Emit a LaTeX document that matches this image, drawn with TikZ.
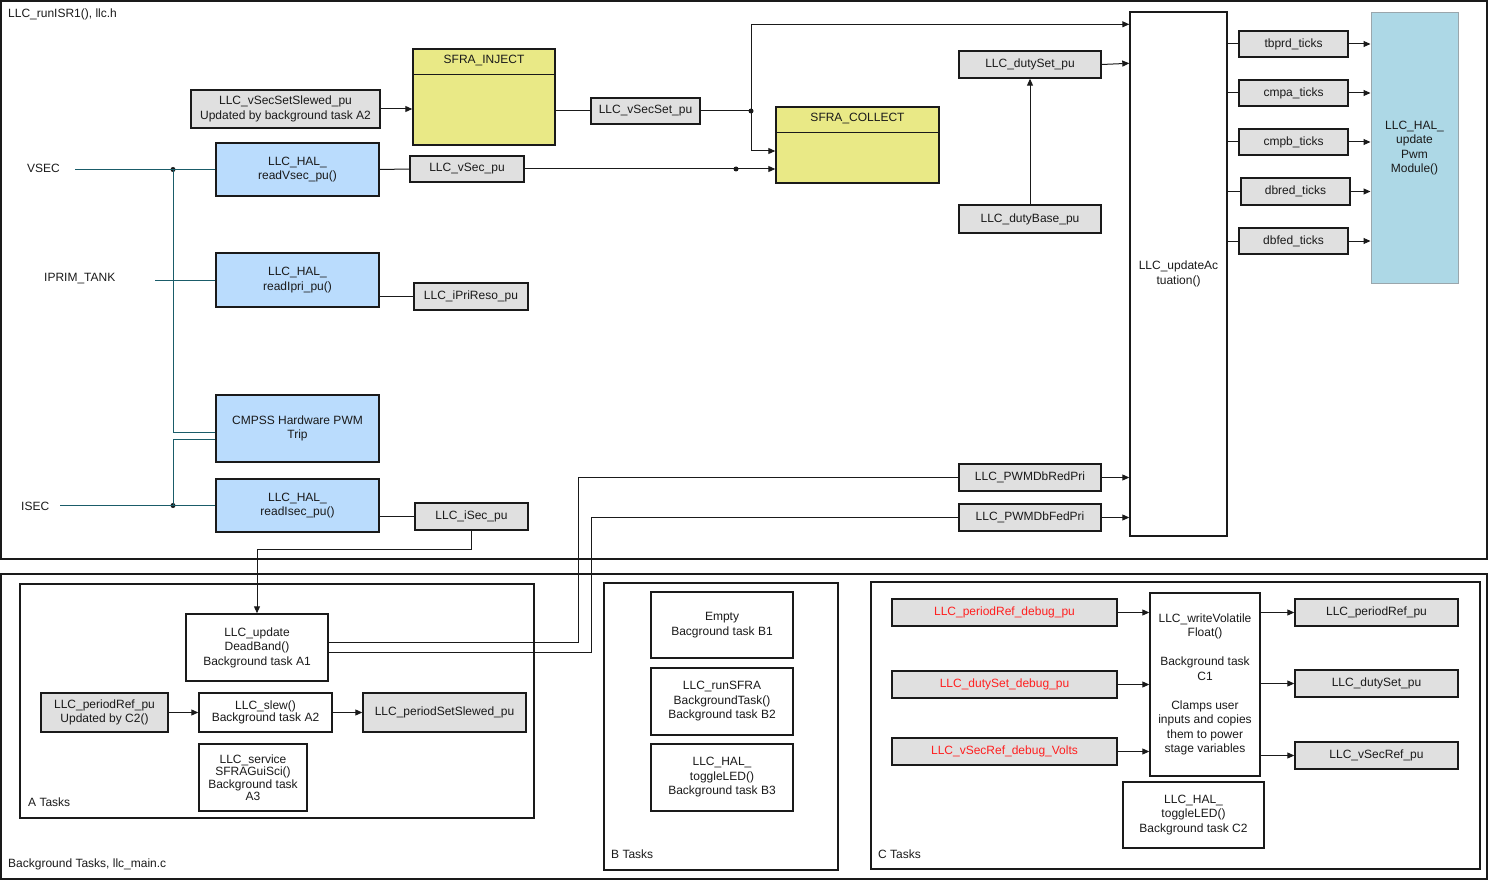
\documentclass[tikz,border=0pt]{standalone}
\usepackage{fontspec}
\setmainfont{Liberation Sans}
\usepackage{xcolor}
\usepackage{tikz}
\usetikzlibrary{arrows.meta,positioning,calc}
\definecolor{ink}{HTML}{1A1A1A}
\definecolor{vargray}{HTML}{E0E0E0}
\definecolor{halblue}{HTML}{BADCFD}
\definecolor{sfrayel}{HTML}{E9E986}
\definecolor{pwmblue}{HTML}{ADD8E6}
\definecolor{pwmedge}{HTML}{9AA6AC}
\definecolor{dbgred}{HTML}{FF2020}
\definecolor{sigteal}{HTML}{1A5C69}
\tikzset{
  >={Triangle[length=7pt,width=6pt]},
  every node/.style={font=\fontsize{12}{14.5}\selectfont,text=ink},
  blk/.style={draw=ink,line width=1.4pt,inner sep=0pt,align=center},
  var/.style={blk,fill=vargray},
  hal/.style={blk,fill=halblue},
  sfra/.style={blk,fill=sfrayel},
  task/.style={blk,fill=white},
  dbg/.style={var,text=dbgred},
  pwmbox/.style={blk,fill=pwmblue,draw=pwmedge,line width=1pt},
  frame/.style={draw=ink,line width=1.6pt},
  lbl/.style={anchor=west,inner sep=0pt},
  wire/.style={draw=ink,line width=1pt},
  arr/.style={wire,->},
  sig/.style={draw=sigteal,line width=1pt},
  jdot/.style={circle,fill=ink,inner sep=0pt,minimum size=5pt}
}
\begin{document}
\begin{tikzpicture}[x=1pt,y=-1pt]
  \useasboundingbox (0,0) rectangle (1489,880);

  % frames
  \draw[frame] (1,1) rectangle (1487,559);
  \draw[frame] (1,574) rectangle (1487,879);
  \draw[frame] (20,584) rectangle (534,818);
  \draw[frame] (604,583) rectangle (838,870);
  \draw[frame] (871,582) rectangle (1480,869);
  \node[lbl] (isrlbl) at (8,14) {LLC\_runISR1(), llc.h};
  \node[lbl] (bglbl) at (8,864) {Background Tasks, llc\_main.c};
  \node[lbl] (alaabel) at (28,802) {A Tasks};
  \node[lbl] (blabel) at (611,854) {B Tasks};
  \node[lbl] (clabel) at (878,854) {C Tasks};

  % ISR inputs
  \node[lbl] (vseclbl) at (27,168) {VSEC};
  \node[lbl] (iprimlbl) at (44,279) {IPRIM\_TANK};
  \node[lbl] (iseclbl) at (21,506) {ISEC};
  \coordinate (vsecin) at (75,169.5);
  \coordinate (iprimin) at (155,280);
  \coordinate (isecin) at (60,505.5);

  % ISR blocks
  \node[hal,minimum width=163,minimum height=53] (readvsec) at (297.5,169.5) {LLC\_HAL\_\\readVsec\_pu()};
  \node[hal,minimum width=163,minimum height=54] (readipri) at (297.5,280) {LLC\_HAL\_\\readIpri\_pu()};
  \node[hal,minimum width=163,minimum height=67] (cmpss) at (297.5,428.5) {CMPSS Hardware PWM\\Trip};
  \node[hal,minimum width=163,minimum height=53] (readisec) at (297.5,505.5) {LLC\_HAL\_\\readIsec\_pu()};

  \node[var,minimum width=189,minimum height=38] (slewedvsec) at (285.5,109) {LLC\_vSecSetSlewed\_pu\\Updated by background task A2};
  \node[var,minimum width=114,minimum height=26] (vsec) at (467,169) {LLC\_vSec\_pu};
  \node[var,minimum width=114,minimum height=27] (ipri) at (471,296.5) {LLC\_iPriReso\_pu};
  \node[var,minimum width=113,minimum height=27] (isec) at (471.5,516.5) {LLC\_iSec\_pu};
  \node[var,minimum width=109,minimum height=26] (vsecset) at (645.5,111) {LLC\_vSecSet\_pu};

  \node[sfra,minimum width=142,minimum height=96] (inject) at (484,97) {};
  \draw[blk] ($(inject.north west)+(0,26)$) -- ($(inject.north east)+(0,26)$);
  \node (injecthd) at ($(inject.north)+(0,12)$) {SFRA\_INJECT};
  \node[sfra,minimum width=163,minimum height=76] (collect) at (857.5,145) {};
  \draw[blk] ($(collect.north west)+(0,26)$) -- ($(collect.north east)+(0,26)$);
  \node (collecthd) at ($(collect.north)+(0,12)$) {SFRA\_COLLECT};

  \node[var,minimum width=142,minimum height=27] (dutyset) at (1030,64.5) {LLC\_dutySet\_pu};
  \node[var,minimum width=142,minimum height=28] (dutybase) at (1030,219) {LLC\_dutyBase\_pu};
  \node[var,minimum width=142,minimum height=27] (redpri) at (1030,477.5) {LLC\_PWMDbRedPri};
  \node[var,minimum width=142,minimum height=27] (fedpri) at (1030,517.5) {LLC\_PWMDbFedPri};

  \node[task,minimum width=97,minimum height=524] (upd) at (1178.5,274) {LLC\_updateAc\\tuation()};
  \node[var,minimum width=109,minimum height=26] (tbprd) at (1293.5,44) {tbprd\_ticks};
  \node[var,minimum width=109,minimum height=26] (cmpa) at (1293.5,93) {cmpa\_ticks};
  \node[var,minimum width=109,minimum height=26] (cmpb) at (1293.5,142) {cmpb\_ticks};
  \node[var,minimum width=109,minimum height=27] (dbred) at (1295.5,191.5) {dbred\_ticks};
  \node[var,minimum width=109,minimum height=26] (dbfed) at (1293.5,241) {dbfed\_ticks};
  \node[pwmbox,minimum width=87,minimum height=270] (pwm) at (1414.5,148) {LLC\_HAL\_\\update\\Pwm\\Module()};

  % ISR wiring
  \node[jdot] (vsecdot) at (173,169.5) {};
  \node[jdot] (isecdot) at (173,505.5) {};
  \draw[sig] (vsecin) -- (readvsec.west);
  \draw[sig] (iprimin) -- (readipri.west);
  \draw[sig] (isecin) -- (readisec.west);
  \draw[sig] (vsecdot.center) |- ($(cmpss.west)+(0,3.5)$);
  \draw[sig] (isecdot.center) |- ($(cmpss.west)+(0,10.5)$);

  \draw[arr] (slewedvsec.east) -- (slewedvsec.east -| inject.west);
  \draw[wire] (vsecset.west -| inject.east) -- (vsecset.west);
  \node[jdot] (setdot) at (751,111) {};
  \draw[wire] (vsecset.east) -- (setdot.center);
  \draw[arr] (setdot.center) |- ($(upd.north west)+(0,13)$);
  \draw[arr] (setdot.center) |- ($(collect.west)+(0,6)$);
  \draw[wire] (readvsec.east) -- (vsec.west);
  \draw[arr] (vsec.east) -- (vsec.east -| collect.west);
  \node[jdot] (vsecdot2) at (736,169) {};
  \draw[arr] (dutyset.east) -- ($(upd.north west)+(0,52)$);
  \draw[arr] (dutybase.north) -- (dutyset.south);
  \foreach \t in {tbprd,cmpa,cmpb,dbred,dbfed} {
    \draw[wire] (\t.west -| upd.east) -- (\t.west);
    \draw[arr] (\t.east) -- (\t.east -| pwm.west);
  }
  \draw[arr] (redpri.east) -- (redpri.east -| upd.west);
  \draw[arr] (fedpri.east) -- (fedpri.east -| upd.west);
  \draw[wire] (ipri.west -| readipri.east) -- (ipri.west);
  \draw[wire] (isec.west -| readisec.east) -- (isec.west);

  % A tasks
  \node[task,minimum width=142,minimum height=67] (deadband) at (257,647.5) {LLC\_update\\DeadBand()\\Background task A1};
  \node[var,minimum width=127,minimum height=39] (periodref) at (104.5,712.5) {LLC\_periodRef\_pu\\Updated by C2()};
  \node[task,minimum width=133,minimum height=39,font=\fontsize{12}{10}\selectfont] (slew) at (265.5,712.5) {LLC\_slew()\\Background task A2};
  \node[var,minimum width=163,minimum height=39] (periodslewed) at (444.5,712.5) {LLC\_periodSetSlewed\_pu};
  \node[task,minimum width=108,minimum height=67,font=\fontsize{12}{12.5}\selectfont] (service) at (253,777.5) {LLC\_service\\SFRAGuiSci()\\Background task\\A3};
  \draw[arr] (periodref) -- (slew);
  \draw[arr] (slew) -- (periodslewed);
  \draw[arr] (isec.south) -- ++(0,19) -| (deadband.north);
  \draw[wire] ($(deadband.east)+(0,-5.5)$) -- ++(250,0) |- (redpri.west);
  \draw[wire] ($(deadband.east)+(0,4.5)$) -- ++(263,0) |- (fedpri.west);

  % B tasks
  \node[task,minimum width=142,minimum height=66] (bone) at (722,625) {Empty\\Bacground task B1};
  \node[task,minimum width=142,minimum height=67] (btwo) at (722,701.5) {LLC\_runSFRA\\BackgroundTask()\\Background task B2};
  \node[task,minimum width=142,minimum height=67] (bthree) at (722,777.5) {LLC\_HAL\_\\toggleLED()\\Background task B3};

  % C tasks
  \node[dbg,minimum width=225,minimum height=27] (dbgperiod) at (1004.5,612.5) {LLC\_periodRef\_debug\_pu};
  \node[dbg,minimum width=225,minimum height=27] (dbgduty) at (1004.5,684.5) {LLC\_dutySet\_debug\_pu};
  \node[dbg,minimum width=225,minimum height=27] (dbgvsec) at (1004.5,751.5) {LLC\_vSecRef\_debug\_Volts};
  \node[task,minimum width=110,minimum height=183] (writevol) at (1205,684.5) {LLC\_writeVolatile\\Float()\\[14.5pt]Background task\\C1\\[14.5pt]Clamps user\\inputs and copies\\them to power\\stage variables};
  \node[var,minimum width=163,minimum height=27] (outperiod) at (1376.5,612.5) {LLC\_periodRef\_pu};
  \node[var,minimum width=163,minimum height=27] (outduty) at (1376.5,683.5) {LLC\_dutySet\_pu};
  \node[var,minimum width=163,minimum height=27] (outvsec) at (1376.5,755.5) {LLC\_vSecRef\_pu};
  \node[task,minimum width=141,minimum height=66] (ctwo) at (1193.5,815) {LLC\_HAL\_\\toggleLED()\\Background task C2};
  \foreach \s/\d in {dbgperiod/outperiod,dbgduty/outduty,dbgvsec/outvsec} {
    \draw[arr] (\s.east) -- (\s.east -| writevol.west);
    \draw[arr] (\d.west -| writevol.east) -- (\d.west);
  }
\end{tikzpicture}
\end{document}
